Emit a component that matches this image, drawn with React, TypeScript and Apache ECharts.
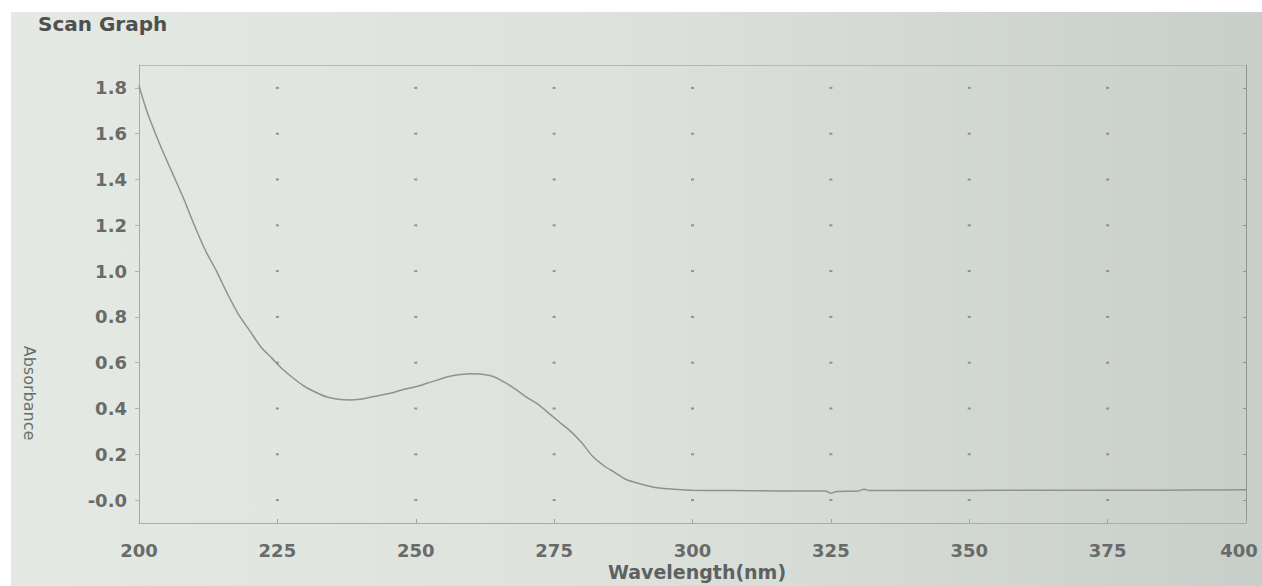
import React, { useEffect, useRef } from "react";
import * as echarts from "echarts";

const wavelengths = [
  200, 201, 202, 204, 206, 208, 210, 212, 214, 216, 218, 220, 222, 224, 226, 228, 230, 232, 234, 236,
  238, 240, 242, 244, 246, 248, 250, 252, 254, 256, 258, 260, 262, 264, 266, 268, 270, 272, 274, 276,
  278, 280, 282, 284, 286, 288, 290, 292, 294, 296, 298, 300, 305, 310, 315, 320, 324, 325, 326, 330,
  331, 332, 340, 350, 360, 370, 380, 390, 400,
];
const absorbance = [
  1.81, 1.73, 1.66, 1.54, 1.43, 1.32, 1.2, 1.09, 1.0, 0.9, 0.81, 0.74, 0.67, 0.62, 0.57, 0.53, 0.495, 0.47, 0.45, 0.44,
  0.437, 0.44, 0.45, 0.46, 0.47, 0.485, 0.495, 0.51, 0.525, 0.54, 0.548, 0.552, 0.55, 0.54, 0.515, 0.485, 0.45, 0.42, 0.38, 0.34,
  0.3, 0.25, 0.19, 0.15, 0.12, 0.09, 0.075, 0.062, 0.053, 0.048, 0.045, 0.043, 0.042, 0.041, 0.04, 0.04, 0.04, 0.03, 0.038, 0.04,
  0.047, 0.042, 0.042, 0.042, 0.043, 0.043, 0.043, 0.044, 0.045,
];
const yTicks = [0, 0.2, 0.4, 0.6, 0.8, 1.0, 1.2, 1.4, 1.6, 1.8];
const xDotCols = [225, 250, 275, 300, 325, 350, 375];

const title = "Scan Graph";
const xName = "Wavelength(nm)";
const yName = "Absorbance";

const FONT = "DejaVu Sans, Verdana, sans-serif";

export default function App() {
  const ref = useRef<HTMLDivElement>(null);
  useEffect(() => {
    if (!ref.current) return;
    const chart = echarts.init(ref.current, null, { renderer: "svg" });
    const dots: number[][] = [];
    xDotCols.forEach((x) => yTicks.forEach((y) => dots.push([x, y])));
    const labelStyle = { color: "#686b69", fontSize: 18, fontFamily: FONT, fontWeight: "bold" as const };
    chart.setOption({
      animation: false,
      backgroundColor: "transparent",
      graphic: [
        {
          type: "rect",
          z: -10,
          shape: { x: 11, y: 12, width: 1251, height: 574 },
          style: {
            fill: new echarts.graphic.LinearGradient(0, 0, 1, 0, [
              { offset: 0, color: "#e5e9e4" },
              { offset: 0.5, color: "#dce1db" },
              { offset: 1, color: "#c8cec9" },
            ]),
          },
        },
        {
          type: "text",
          x: 38,
          y: 24,
          style: {
            text: title,
            fill: "#4d504e",
            fontSize: 20,
            fontWeight: "bold",
            fontFamily: FONT,
            verticalAlign: "middle",
          },
        },
        {
          type: "text",
          x: 29,
          y: 393,
          rotation: -Math.PI / 2,
          style: {
            text: yName,
            fill: "#6a6d6b",
            fontSize: 16,
            fontFamily: FONT,
            align: "center",
            verticalAlign: "middle",
          },
        },
        {
          type: "text",
          x: 697,
          y: 572,
          style: {
            text: xName,
            fill: "#5e615f",
            fontSize: 19,
            fontWeight: "bold",
            fontFamily: FONT,
            align: "center",
            verticalAlign: "middle",
          },
        },
      ],
      grid: { left: 139, right: 16, top: 65, bottom: 63, containLabel: false, outerBoundsMode: "none" },
      xAxis: [
        {
          type: "value",
          min: 200,
          max: 400,
          interval: 25,
          axisLine: { onZero: false, lineStyle: { color: "#a8ada9", width: 1 } },
          axisTick: { inside: true, length: 4, lineStyle: { color: "#a0a5a1" } },
          axisLabel: {
            ...labelStyle,
            margin: 18,
            hideOverlap: false,
            formatter: (v: number) => (v >= 400 ? "{edge|" + v + "}" : String(v)),
            rich: { edge: { ...labelStyle, padding: [0, 14, 0, 0] } },
          },
          splitLine: { show: false },
        },
        {
          type: "value",
          position: "top",
          min: 200,
          max: 400,
          axisLine: { show: true, onZero: false, lineStyle: { color: "#b4b9b5", width: 1 } },
          axisTick: { show: false },
          axisLabel: { show: false },
          splitLine: { show: false },
        },
      ],
      yAxis: [
        {
          type: "value",
          min: -0.1,
          max: 1.9,
          axisLine: { show: true, onZero: false, lineStyle: { color: "#a8ada9", width: 1 } },
          axisTick: { show: true, length: 4, customValues: yTicks, lineStyle: { color: "#b0b5b1" } },
          axisLabel: {
            ...labelStyle,
            margin: 12,
            customValues: yTicks,
            formatter: (v: number) => (Math.abs(v) < 1e-9 ? "-0.0" : v.toFixed(1)),
          },
          splitLine: { show: false },
        },
        {
          type: "value",
          position: "right",
          min: -0.1,
          max: 1.9,
          axisLine: { show: true, onZero: false, lineStyle: { color: "#8f9490", width: 1 } },
          axisTick: { show: true, inside: true, length: 3, customValues: yTicks, lineStyle: { color: "#8f9490" } },
          axisLabel: { show: false },
          splitLine: { show: false },
        },
      ],
      series: [
        {
          type: "scatter",
          data: dots,
          symbol: "rect",
          symbolSize: [3, 2],
          itemStyle: { color: "#7d817e" },
          silent: true,
        },
        {
          type: "line",
          data: wavelengths.map((w, i) => [w, absorbance[i]]),
          showSymbol: false,
          smooth: 0.3,
          lineStyle: { color: "#8e938f", width: 1.5 },
        },
      ],
    });
    return () => chart.dispose();
  }, []);
  return (
    <div style={{ position: "fixed", left: 0, top: 0, width: 1262, height: 586, background: "#ffffff" }}>
      <div ref={ref} style={{ width: 1262, height: 586 }} />
    </div>
  );
}
